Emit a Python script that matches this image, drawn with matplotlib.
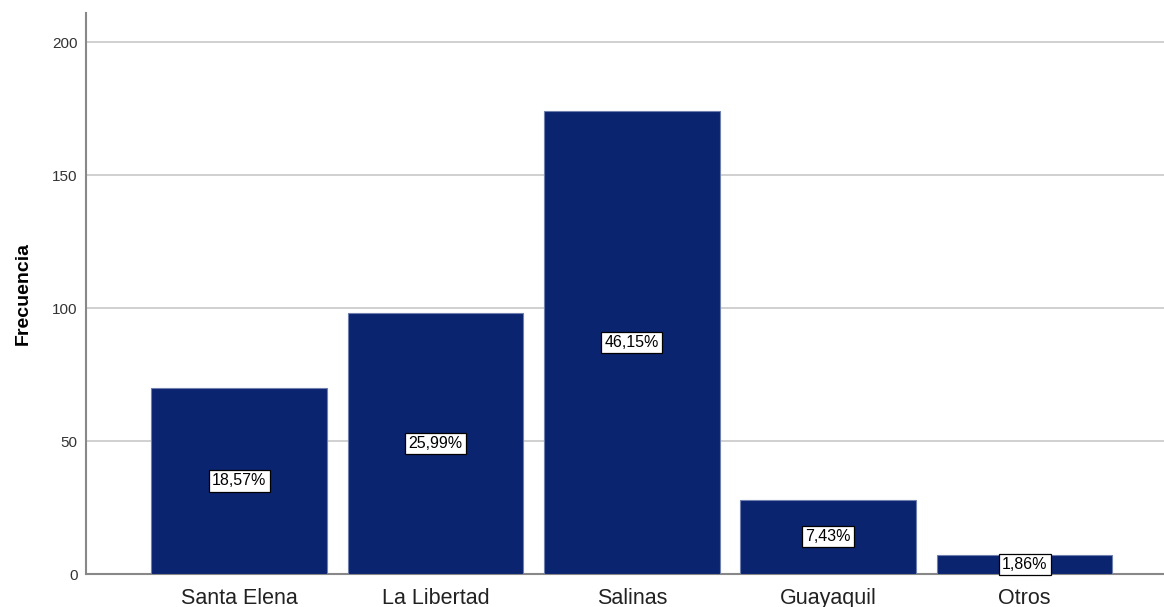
import matplotlib.pyplot as plt

plt.rcParams['font.family'] = ['Liberation Sans', 'DejaVu Sans']

categories = ['Santa Elena', 'La Libertad', 'Salinas', 'Guayaquil', 'Otros']
counts = [70, 98, 174, 28, 7]
percent_labels = ['18,57%', '25,99%', '46,15%', '7,43%', '1,86%']
yticks = [0, 50, 100, 150, 200]

fig = plt.figure(figsize=(11.64, 6.07), dpi=100)
ax = fig.add_axes([86 / 1164, 33 / 607, 1 - 86 / 1164, (574 - 13) / 607])

x = range(len(categories))
ax.bar(x, counts, width=0.895, color='#0b2470', edgecolor='#6f7fae', linewidth=0.8, zorder=3)

# percentage labels sit at the middle of each bar
for xi, c, lab in zip(x, counts, percent_labels):
    ax.text(xi, c / 2, lab, ha='center', va='center', fontsize=11.5, color='black', zorder=4,
            bbox=dict(boxstyle='square,pad=0.2', facecolor='white', edgecolor='black', linewidth=0.9))

ax.set_xlim(-0.78, 4.71)
ax.set_ylim(0, 211)
ax.set_yticks(yticks)
ax.set_yticklabels([str(v) for v in yticks], fontsize=11, color='#333333')
ax.set_xticks(list(x))
ax.set_xticklabels(categories, fontsize=15.5, color='#222222')
ax.tick_params(axis='both', length=0)
ax.tick_params(axis='y', pad=6)
ax.tick_params(axis='x', pad=10)
ax.yaxis.grid(True, color='#c8c8c8', linewidth=1.2, zorder=0)
ax.set_axisbelow(True)

for s in ['top', 'right']:
    ax.spines[s].set_visible(False)
ax.spines['left'].set_color('#888888')
ax.spines['bottom'].set_color('#888888')
ax.spines['left'].set_linewidth(1.5)
ax.spines['bottom'].set_linewidth(1.5)

ax.set_ylabel('Frecuencia', fontsize=14, fontweight='bold', labelpad=15)

fig.savefig('out.png', dpi=100)
